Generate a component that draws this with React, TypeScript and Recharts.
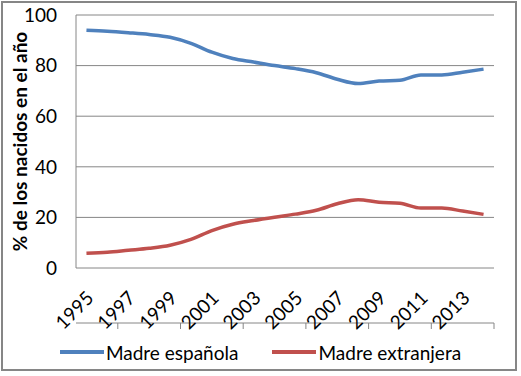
import React from "react";
import { LineChart, Line, XAxis, YAxis, CartesianGrid, Legend } from "recharts";

const years = [1995, 1996, 1997, 1998, 1999, 2000, 2001, 2002, 2003, 2004, 2005, 2006, 2007, 2008, 2009, 2010, 2011, 2012, 2013, 2014];
const madreEspanola = [94.0, 93.6, 93.0, 92.3, 91.2, 88.8, 85.3, 82.8, 81.4, 80.0, 78.8, 77.2, 74.6, 72.9, 73.9, 74.2, 76.3, 76.3, 77.4, 78.6];
const madreExtranjera = [5.8, 6.2, 7.0, 7.8, 9.0, 11.3, 14.8, 17.3, 18.8, 20.1, 21.3, 22.8, 25.4, 27.0, 26.0, 25.6, 23.7, 23.7, 22.5, 21.2];
const yTicks = [0, 20, 40, 60, 80, 100];
const xLabelTicks = [1995, 1997, 1999, 2001, 2003, 2005, 2007, 2009, 2011, 2013];
const xBoundaryTicks = [1994.5, 1995.5, 1996.5, 1997.5, 1998.5, 1999.5, 2000.5, 2001.5, 2002.5, 2003.5, 2004.5, 2005.5, 2006.5, 2007.5, 2008.5, 2009.5, 2010.5, 2011.5, 2012.5, 2013.5, 2014.5];
const seriesNames = ["Madre española", "Madre extranjera"];
const seriesColors = ["#4F81BD", "#C0504D"];
const yTitle = "% de los nacidos en el año";

const data = years.map((y, i) => ({ year: y, esp: madreEspanola[i], ext: madreExtranjera[i] }));

const FONT = "Lato, 'Open Sans', sans-serif";
const GRID = "#868686";

const XLabel = (props: any) => {
  const { x, y, payload } = props;
  return (
    <g transform={`translate(${x + 3},${y + 18})`}>
      <text x={0} y={0} transform="rotate(-45)" textAnchor="end" dominantBaseline="central" fontSize={19} fontFamily={FONT} fill="#000">
        {payload.value}
      </text>
    </g>
  );
};

const Empty = () => <g />;

const LegendContent = () => (
  <div style={{ display: "flex", justifyContent: "center", gap: 34, fontFamily: FONT, fontSize: 19, color: "#000", height: 30, alignItems: "center" }}>
    {seriesNames.map((n, i) => (
      <div key={n} style={{ display: "flex", alignItems: "center" }}>
        <div style={{ width: 44, height: 4, background: seriesColors[i], marginRight: 2 }} />
        <span>{n}</span>
      </div>
    ))}
  </div>
);

export default function App() {
  return (
    <div style={{ position: "absolute", left: 0, top: 0, width: 521, height: 376, background: "#fff" }}>
      <div style={{ position: "absolute", left: 1, top: 1, width: 516, height: 370, border: `2px solid ${GRID}`, boxSizing: "border-box" }} />
      <LineChart width={521} height={376} data={data} margin={{ top: 15, right: 27, left: 0, bottom: 16 }}>
        <CartesianGrid vertical={false} stroke={GRID} strokeWidth={1} />
        <XAxis xAxisId="t" dataKey="year" type="number" domain={[1994.5, 2014.5]} ticks={xBoundaryTicks} tick={<Empty />} tickSize={6} height={7} axisLine={{ stroke: GRID }} tickLine={{ stroke: GRID }} allowDataOverflow />
        <XAxis xAxisId="l" dataKey="year" type="number" domain={[1994.5, 2014.5]} ticks={xLabelTicks} tick={<XLabel />} height={55} axisLine={false} tickLine={false} interval={0} allowDataOverflow />
        <YAxis
          domain={[0, 100]}
          ticks={yTicks}
          width={76}
          axisLine={{ stroke: GRID }}
          tickLine={false}
          tickMargin={13}
          tick={{ fontSize: 19, fontFamily: FONT, fill: "#000" }}
          label={{
            content: (p: any) => {
              const vb = p.viewBox;
              const cy = vb.y + vb.height / 2;
              return (
                <text x={19} y={cy} transform={`rotate(-90 19 ${cy})`} textAnchor="middle" dominantBaseline="central" fontSize={19} fontWeight="bold" fontFamily={FONT} fill="#000">
                  {yTitle}
                </text>
              );
            },
          }}
        />
        <Legend verticalAlign="bottom" height={30} content={<LegendContent />} wrapperStyle={{ top: 337, left: 0, width: 521, bottom: "auto" }} />
        <Line xAxisId="l" type="monotone" dataKey="esp" name={seriesNames[0]} stroke={seriesColors[0]} strokeWidth={3.5} dot={false} isAnimationActive={false} />
        <Line xAxisId="l" type="monotone" dataKey="ext" name={seriesNames[1]} stroke={seriesColors[1]} strokeWidth={3.5} dot={false} isAnimationActive={false} />
      </LineChart>
    </div>
  );
}
